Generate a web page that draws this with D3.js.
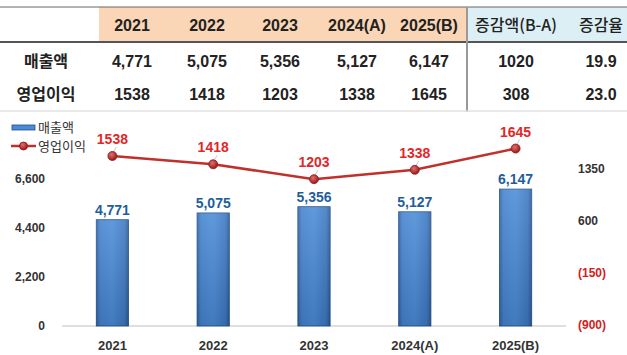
<!DOCTYPE html>
<html><head><meta charset="utf-8">
<script src="https://cdn.jsdelivr.net/npm/d3@7"></script>
<style>
html,body{margin:0;padding:0;background:#fff;}
svg{display:block;}
text{font-family:"Liberation Sans","Noto Sans CJK KR",sans-serif;}
</style></head>
<body>
<svg id="c" width="627" height="355"></svg>
<script>
const categories = ["2021","2022","2023","2024(A)","2025(B)"];
const sales = [4771, 5075, 5356, 5127, 6147];
const opProfit = [1538, 1418, 1203, 1338, 1645];
const changeHeaders = ["증감액(B-A)", "증감율"];
const salesChange = ["1020", "19.9"];
const profitChange = ["308", "23.0"];
const rowLabels = ["매출액", "영업이익"];
const leftTicks = [0, 2200, 4400, 6600];
const rightTicks = [-900, -150, 600, 1350];

const svg = d3.select("#c");
const kr = '"Noto Sans CJK KR","Liberation Sans",sans-serif';

// ---------- Table ----------
const colX = [132, 207, 280, 357, 429, 516, 601];
const tbl = svg.append("g");
tbl.append("rect").attr("x",99).attr("y",7).attr("width",368).attr("height",35).attr("fill","#FBD6B6");
tbl.append("rect").attr("x",467).attr("y",7).attr("width",160).attr("height",35).attr("fill","#DCEFF4");
tbl.append("line").attr("x1",0).attr("x2",627).attr("y1",7).attr("y2",7).attr("stroke","#666").attr("stroke-width",1);
tbl.append("line").attr("x1",0).attr("x2",627).attr("y1",42).attr("y2",42).attr("stroke","#555").attr("stroke-width",2);
tbl.append("line").attr("x1",467).attr("x2",467).attr("y1",7).attr("y2",112).attr("stroke","#999").attr("stroke-width",2);
tbl.append("line").attr("x1",0).attr("x2",627).attr("y1",111).attr("y2",111).attr("stroke","#e2e2e2").attr("stroke-width",1.5);

const headers = categories.concat(changeHeaders);
tbl.selectAll("text.h").data(headers).join("text").attr("class","h")
  .attr("x",(d,i)=>colX[i]).attr("y",31).attr("text-anchor","middle")
  .attr("font-size",16).attr("font-weight","bold").attr("fill","#222")
  .style("font-family",(d,i)=> i>=5 ? kr : null)
  .attr("font-weight",(d,i)=> i>=5 ? 500 : "bold")
  .text(d=>d);

const fmt = d3.format(",");
const row1 = sales.map(fmt).concat(salesChange);
const row2 = opProfit.map(String).concat(profitChange);
[[row1,67],[row2,100]].forEach(([row,y],ri)=>{
  tbl.append("text").attr("x",46).attr("y",y).attr("text-anchor","middle")
    .attr("font-size",16).attr("font-weight","bold").attr("fill","#222").style("font-family",kr)
    .text(rowLabels[ri]);
  tbl.selectAll(null).data(row).join("text")
    .attr("x",(d,i)=>colX[i]).attr("y",y).attr("text-anchor","middle")
    .attr("font-size",16).attr("font-weight","bold").attr("fill","#222").text(d=>d);
});

// ---------- Chart ----------
const x = d3.scaleBand().domain(categories).range([62,566]).paddingInner(0.68).paddingOuter(0.34);
const yL = d3.scaleLinear().domain([0,8800]).range([326,130]);
const yR = d3.scaleLinear().domain([-900,2100]).range([325,117]);

const defs = svg.append("defs");
const g1 = defs.append("linearGradient").attr("id","barG").attr("x1","0").attr("x2","1").attr("y1","0").attr("y2","0");
g1.append("stop").attr("offset","0").attr("stop-color","#2F62A6");
g1.append("stop").attr("offset","0.12").attr("stop-color","#4483CF");
g1.append("stop").attr("offset","0.5").attr("stop-color","#4A8CD8");
g1.append("stop").attr("offset","0.88").attr("stop-color","#3D78C2");
g1.append("stop").attr("offset","1").attr("stop-color","#2A5A98");
const g2 = defs.append("linearGradient").attr("id","barV").attr("x1","0").attr("x2","0").attr("y1","0").attr("y2","1");
g2.append("stop").attr("offset","0").attr("stop-color","#fff").attr("stop-opacity",0.12);
g2.append("stop").attr("offset","1").attr("stop-color","#000").attr("stop-opacity",0.12);
const rg = defs.append("radialGradient").attr("id","dotG").attr("cx","0.4").attr("cy","0.35").attr("r","0.6");
rg.append("stop").attr("offset","0").attr("stop-color","#E07070");
rg.append("stop").attr("offset","1").attr("stop-color","#A01E1E");

// baseline
svg.append("line").attr("x1",62).attr("x2",566).attr("y1",yL(0)).attr("y2",yL(0)).attr("stroke","#d4d4d4").attr("stroke-width",1.5);

// left axis labels
svg.append("g").selectAll("text").data(leftTicks).join("text")
  .attr("x",45).attr("y",d=>yL(d)+4).attr("text-anchor","end")
  .attr("font-size",12).attr("font-weight","bold").attr("fill","#333")
  .text(d=>fmt(d));

// right axis labels
svg.append("g").selectAll("text").data(rightTicks).join("text")
  .attr("x",578).attr("y",d=>yR(d)+4).attr("text-anchor","start")
  .attr("font-size",12).attr("font-weight","bold")
  .attr("fill",d=>d<0?"#D42020":"#333")
  .text(d=> d<0 ? "("+Math.abs(d)+")" : String(d));

// bars
const bars = svg.append("g");
bars.selectAll("rect.b").data(sales).join("rect").attr("class","b")
  .attr("x",(d,i)=>x(categories[i])).attr("width",x.bandwidth())
  .attr("y",d=>yL(d)).attr("height",d=>yL(0)-yL(d))
  .attr("fill","url(#barG)").attr("stroke","#244F86").attr("stroke-width",0.8);
bars.selectAll("rect.s").data(sales).join("rect").attr("class","s")
  .attr("x",(d,i)=>x(categories[i])).attr("width",x.bandwidth())
  .attr("y",d=>yL(d)).attr("height",d=>yL(0)-yL(d))
  .attr("fill","url(#barV)");
bars.selectAll("text").data(sales).join("text")
  .attr("x",(d,i)=>x(categories[i])+x.bandwidth()/2).attr("y",d=>yL(d)-5)
  .attr("text-anchor","middle").attr("font-size",14).attr("font-weight","bold").attr("fill","#1F5E9E")
  .text(d=>fmt(d));

// x labels
svg.append("g").selectAll("text").data(categories).join("text")
  .attr("x",d=>x(d)+x.bandwidth()/2).attr("y",350).attr("text-anchor","middle")
  .attr("font-size",13).attr("font-weight","bold").attr("fill","#333").text(d=>d);

// line
const cx = (d,i)=>x(categories[i])+x.bandwidth()/2;
const line = d3.line().x(cx).y(d=>yR(d));
svg.append("path").datum(opProfit).attr("d",line).attr("fill","none")
  .attr("stroke","#C0302C").attr("stroke-width",2.5);
svg.append("g").selectAll("line").data(opProfit).join("line")
  .attr("x1",(d,i)=>cx(d,i)+1).attr("x2",(d,i)=>cx(d,i)+4)
  .attr("y1",d=>yR(d)-4).attr("y2",d=>yR(d)-9).attr("stroke","#bbb").attr("stroke-width",0.8);
svg.append("g").selectAll("circle").data(opProfit).join("circle")
  .attr("cx",cx).attr("cy",d=>yR(d)).attr("r",4.5)
  .attr("fill","url(#dotG)").attr("stroke","#8E1A1A").attr("stroke-width",0.8);
svg.append("g").selectAll("text").data(opProfit).join("text")
  .attr("x",cx).attr("y",d=>yR(d)-12).attr("text-anchor","middle")
  .attr("font-size",14).attr("font-weight","bold").attr("fill","#E02828").text(d=>d);

// legend
const lg = svg.append("g");
lg.append("rect").attr("x",12).attr("y",125).attr("width",23).attr("height",5)
  .attr("fill","#4A8AD6").attr("stroke","#244F86").attr("stroke-width",0.8);
lg.append("text").attr("x",38).attr("y",132).attr("font-size",13).attr("fill","#333").style("font-family",kr).text("매출액");
lg.append("line").attr("x1",11).attr("x2",36).attr("y1",146).attr("y2",146).attr("stroke","#C0302C").attr("stroke-width",2.5);
lg.append("circle").attr("cx",23.5).attr("cy",146).attr("r",4).attr("fill","url(#dotG)").attr("stroke","#8E1A1A").attr("stroke-width",0.8);
lg.append("text").attr("x",38).attr("y",151).attr("font-size",13).attr("fill","#333").style("font-family",kr).text("영업이익");
</script>
</body></html>
